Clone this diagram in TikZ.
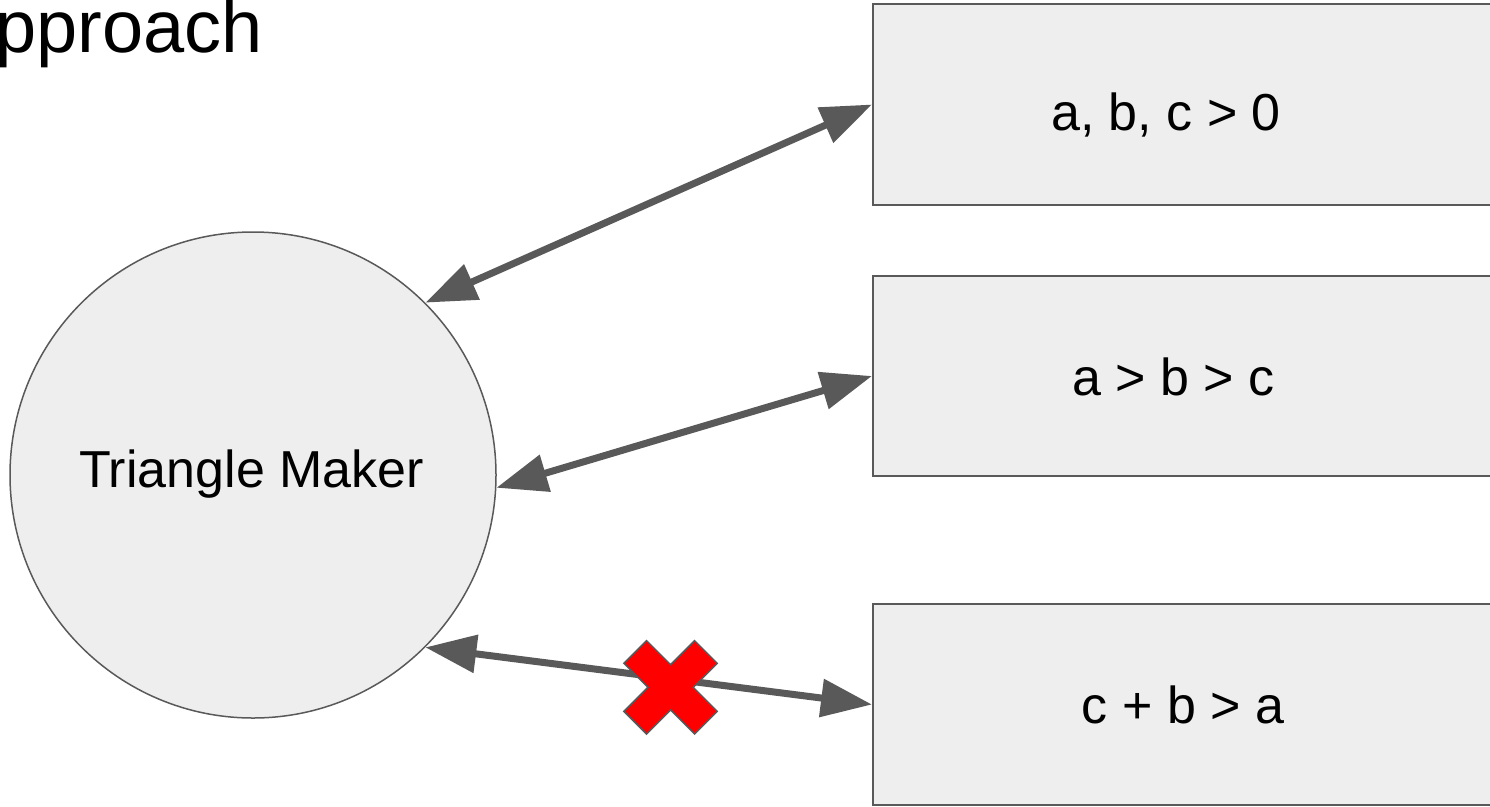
\documentclass[tikz,border=0pt]{standalone}
\usepackage{fontspec}
\setmainfont{Liberation Sans}
\usetikzlibrary{arrows.meta}
\definecolor{edgegray}{HTML}{595959}
\definecolor{panel}{HTML}{EEEEEE}
\definecolor{crossred}{HTML}{FF0000}

\begin{document}
\begin{tikzpicture}[x=1pt,y=-1pt,
  shapefill/.style={draw=edgegray, line width=1.5pt, fill=panel},
  rulebox/.style={shapefill, rectangle, minimum width=630pt, anchor=west, inner sep=0pt},
  labeltext/.style={font=\fontsize{52}{60}\selectfont, anchor=base, inner sep=0pt},
  tiphead/.tip={Triangle[length=51pt,width=37pt]},
  link/.style={draw=edgegray, line width=7pt, tiphead-tiphead},
]
\useasboundingbox (0,0) rectangle (1490,806);
\clip (0,0) rectangle (1490,806);

% heading, cut at the left edge
\node[font=\fontsize{74}{80}\selectfont, anchor=base west, inner sep=0pt] (heading) at (-5,52) {pproach};

% the generator
\node[shapefill, circle, minimum size=486pt, inner sep=0pt] (maker) at (253,475) {};
\node[labeltext] (makerlabel) at (251.5,487) {Triangle Maker};

% the three rules, running off the right edge
\node[rulebox, minimum height=201pt] (rule1) at (872,104.5) {};
\node[rulebox, minimum height=200pt] (rule2) at (872,376) {};
\node[rulebox, minimum height=201pt] (rule3) at (872,704.5) {};
\node[labeltext] (rule1label) at (1166,130) {a, b, c > 0};
\node[labeltext] (rule2label) at (1173.5,395) {a > b > c};
\node[labeltext] (rule3label) at (1183,723) {c + b > a};

% connections
\draw[link] (maker.45) -- (rule1.west);
\draw[link] (maker.-3.5) -- (rule2.west);
\draw[link] (maker.-45) -- (rule3.west);

% the failing rule is struck out
\coordinate (strike) at (670.5,687.3);
\begin{scope}[shift={(strike)}, rotate=45]
  \draw[draw=edgegray, line width=1.5pt, fill=crossred, line join=miter]
    (16,16) -- (50,16) -- (50,-16) -- (16,-16) -- (16,-50) -- (-16,-50)
    -- (-16,-16) -- (-50,-16) -- (-50,16) -- (-16,16) -- (-16,50) -- (16,50) -- cycle;
\end{scope}
\end{tikzpicture}
\end{document}
